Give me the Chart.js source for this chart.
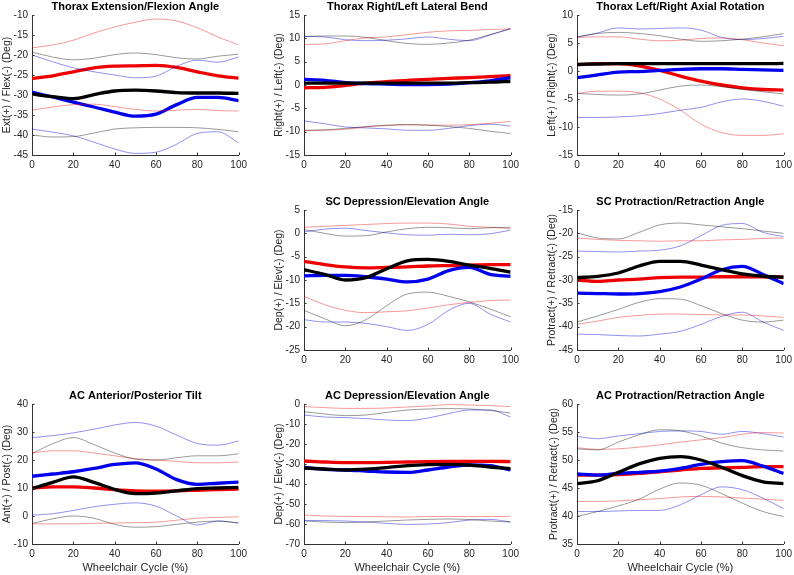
<!DOCTYPE html>
<html>
<head>
<meta charset="utf-8">
<script src="https://cdn.jsdelivr.net/npm/chart.js@4.4.1/dist/chart.umd.min.js"></script>
<style>
  html, body { margin: 0; padding: 0; background: #fff; }
  body { width: 794px; height: 575px; position: relative; overflow: hidden; }
  .panel { position: absolute; }
</style>
</head>
<body>
<script>
// x axis: percent of wheelchair cycle
const cyclePct = [0, 10, 20, 30, 40, 50, 60, 70, 80, 90, 100];

// Thorax extension / flexion
const tefBlack   = [-29.8, -30.4, -30.9, -29.9, -29.0, -28.8, -29.0, -29.4, -29.5, -29.5, -29.6];
const tefBlackHi = [-19.3, -20.5, -21.2, -20.8, -19.9, -19.5, -19.9, -20.7, -21.0, -20.3, -19.8];
const tefBlackLo = [-40.0, -40.5, -40.4, -39.5, -38.5, -38.2, -38.1, -38.1, -38.2, -38.6, -39.2];
const tefRed     = [-25.9, -25.2, -24.2, -23.2, -22.8, -22.7, -22.6, -23.1, -24.2, -25.2, -25.8];
const tefRedHi   = [-18.2, -17.5, -16.3, -14.5, -13.0, -11.8, -11.0, -11.5, -13.2, -15.5, -17.5];
const tefRedLo   = [-33.8, -33.0, -32.4, -32.3, -32.9, -33.6, -34.0, -33.8, -33.6, -33.9, -34.0];
const tefBlue    = [-29.3, -30.5, -31.8, -33.0, -34.3, -35.3, -34.8, -32.4, -30.6, -30.6, -31.4];
const tefBlueHi  = [-20.0, -21.7, -23.2, -24.2, -25.0, -25.7, -25.3, -22.8, -21.3, -21.8, -20.5];
const tefBlueLo  = [-38.5, -39.3, -40.2, -41.8, -43.5, -44.6, -44.3, -42.3, -39.6, -39.2, -42.0];

// Thorax right / left lateral bend
const tlbBlack   = [0.4, 0.4, 0.4, 0.4, 0.4, 0.4, 0.4, 0.4, 0.5, 0.6, 0.8];
const tlbBlackHi = [10.4, 10.5, 10.5, 10.2, 9.5, 8.9, 8.7, 9.0, 9.6, 10.8, 12.0];
const tlbBlackLo = [-9.7, -9.6, -9.3, -8.9, -8.6, -8.5, -8.6, -8.9, -9.3, -9.9, -10.4];
const tlbRed     = [-0.6, -0.5, -0.1, 0.4, 0.7, 1.0, 1.2, 1.4, 1.6, 1.8, 2.0];
const tlbRedHi   = [8.7, 8.8, 9.5, 10.1, 10.3, 10.8, 11.3, 11.6, 11.7, 11.9, 12.0];
const tlbRedLo   = [-9.8, -9.7, -9.5, -9.0, -8.7, -8.5, -8.6, -8.6, -8.5, -8.2, -7.8];
const tlbBlue    = [1.2, 1.0, 0.5, 0.3, 0.2, 0.1, 0.1, 0.2, 0.5, 0.9, 1.6];
const tlbBlueHi  = [10.4, 10.3, 9.7, 9.5, 9.6, 9.9, 10.3, 9.8, 9.5, 10.7, 12.2];
const tlbBlueLo  = [-7.7, -8.3, -9.0, -9.2, -9.4, -9.7, -9.7, -9.3, -8.7, -8.4, -8.8];

// Thorax left / right axial rotation
const tarBlack   = [1.2, 1.25, 1.3, 1.3, 1.3, 1.3, 1.3, 1.3, 1.3, 1.3, 1.35];
const tarBlackHi = [6.1, 6.7, 6.9, 6.7, 6.3, 5.7, 5.3, 5.4, 5.7, 6.1, 6.7];
const tarBlackLo = [-4.0, -4.2, -4.3, -4.1, -3.4, -2.7, -2.5, -2.8, -3.3, -3.7, -4.1];
const tarRed     = [1.1, 1.3, 1.3, 0.9, 0.1, -0.9, -1.8, -2.5, -3.0, -3.3, -3.4];
const tarRedHi   = [6.0, 6.1, 6.1, 5.7, 5.4, 5.5, 5.8, 5.9, 5.6, 5.0, 4.5];
const tarRedLo   = [-4.0, -3.6, -3.6, -3.9, -5.0, -7.0, -9.5, -11.0, -11.5, -11.5, -11.2];
const tarBlue    = [-1.2, -0.7, -0.2, -0.1, 0.1, 0.3, 0.4, 0.4, 0.3, 0.2, 0.1];
const tarBlueHi  = [6.0, 6.8, 7.7, 7.5, 7.6, 7.7, 7.3, 6.0, 5.6, 5.8, 6.2];
const tarBlueLo  = [-8.3, -8.3, -8.2, -8.0, -7.6, -7.0, -6.5, -5.5, -5.0, -5.4, -6.3];

// SC depression / elevation
const scdeBlack   = [-7.8, -8.8, -10.0, -9.5, -7.6, -5.9, -5.6, -6.0, -6.8, -7.5, -8.3];
const scdeBlackHi = [0.8, 0.0, -0.6, -0.5, 0.3, 1.0, 1.3, 1.2, 1.0, 1.2, 1.3];
const scdeBlackLo = [-16.5, -18.3, -19.8, -18.5, -15.5, -13.0, -12.6, -13.5, -14.7, -16.2, -17.9];
const scdeRed     = [-6.0, -6.7, -7.2, -7.4, -7.3, -7.2, -7.0, -6.9, -6.8, -6.7, -6.7];
const scdeRedHi   = [1.3, 1.5, 1.7, 1.9, 2.1, 2.2, 2.2, 2.0, 1.5, 1.3, 1.0];
const scdeRedLo   = [-13.5, -15.3, -16.5, -17.0, -16.8, -16.6, -16.0, -15.3, -14.8, -14.4, -14.3];
const scdeBlue    = [-9.1, -9.0, -9.0, -9.3, -9.8, -10.4, -9.8, -8.0, -7.3, -8.8, -9.2];
const scdeBlueHi  = [0.3, 0.9, 1.1, 0.6, 0.1, -0.3, -0.4, -0.2, -0.3, -0.1, 0.7];
const scdeBlueLo  = [-18.5, -19.0, -19.0, -19.3, -20.0, -20.8, -19.5, -16.5, -15.0, -17.3, -19.0];

// SC protraction / retraction
const scprBlack   = [-29.5, -29.2, -28.5, -27.0, -26.0, -26.0, -26.8, -27.8, -28.7, -29.2, -29.4];
const scprBlackHi = [-19.9, -21.0, -21.2, -19.8, -18.2, -17.8, -18.2, -18.6, -19.0, -19.5, -20.0];
const scprBlackLo = [-39.0, -37.7, -36.3, -34.8, -34.0, -34.1, -35.5, -37.2, -38.6, -39.0, -38.6];
const scprRed     = [-30.0, -30.3, -30.0, -29.8, -29.5, -29.4, -29.4, -29.3, -29.3, -29.3, -29.4];
const scprRedHi   = [-21.0, -21.3, -21.5, -21.6, -21.7, -21.6, -21.6, -21.4, -21.3, -21.1, -21.0];
const scprRedLo   = [-39.5, -38.8, -38.0, -37.6, -37.3, -37.3, -37.4, -37.5, -37.5, -37.7, -38.0];
const scprBlue    = [-32.8, -32.9, -33.0, -32.9, -32.5, -31.5, -29.8, -27.8, -27.1, -28.8, -30.8];
const scprBlueHi  = [-23.8, -23.9, -24.0, -23.8, -23.6, -22.7, -20.5, -18.3, -17.9, -19.8, -20.7];
const scprBlueLo  = [-41.6, -41.7, -41.9, -42.0, -41.6, -41.0, -39.5, -37.8, -36.9, -39.0, -40.8];

// AC anterior / posterior tilt
const actBlack   = [9.8, 12.0, 14.0, 12.0, 9.5, 8.0, 8.2, 9.0, 9.8, 10.0, 10.2];
const actBlackHi = [22.3, 25.8, 28.0, 25.5, 22.5, 20.3, 20.0, 20.8, 21.5, 21.5, 22.2];
const actBlackLo = [-2.7, -1.0, 0.0, -0.8, -3.0, -4.0, -3.8, -3.0, -2.2, -1.8, -2.5];
const actRed     = [10.0, 10.4, 10.4, 10.0, 9.4, 9.0, 8.9, 9.0, 9.2, 9.4, 9.6];
const actRedHi   = [22.5, 23.3, 23.3, 22.5, 21.5, 20.5, 20.0, 19.5, 19.0, 19.0, 19.3];
const actRedLo   = [-2.8, -2.8, -2.8, -2.6, -2.5, -2.4, -2.2, -1.5, -0.8, -0.5, -0.3];
const actBlue    = [14.2, 15.0, 15.8, 17.0, 18.4, 19.0, 16.8, 13.0, 11.3, 11.7, 12.1];
const actBlueHi  = [28.0, 28.7, 29.7, 31.0, 32.5, 33.4, 32.1, 28.9, 25.9, 25.3, 26.8];
const actBlueLo  = [0.3, 0.8, 2.0, 3.3, 4.2, 4.7, 3.5, 0.0, -3.2, -1.8, -2.5];

// AC depression / elevation
const acdeBlack   = [-32.0, -32.5, -33.0, -32.6, -31.8, -30.8, -30.3, -30.2, -30.5, -31.5, -32.3];
const acdeBlackHi = [-3.8, -5.0, -5.8, -5.5, -4.2, -3.0, -2.5, -2.3, -2.5, -3.2, -4.5];
const acdeBlackLo = [-58.5, -59.0, -59.3, -59.0, -58.5, -58.0, -57.7, -57.5, -57.8, -58.5, -59.0];
const acdeRed     = [-28.5, -29.0, -29.3, -29.3, -29.2, -29.0, -28.8, -28.7, -28.7, -28.7, -28.8];
const acdeRedHi   = [-1.3, -1.8, -2.2, -2.2, -2.0, -1.5, -1.0, -0.3, -0.5, -0.8, -1.3];
const acdeRedLo   = [-55.5, -56.0, -56.2, -56.3, -56.4, -56.5, -56.3, -56.2, -56.3, -56.3, -56.2];
const acdeBlue    = [-31.7, -32.7, -33.0, -33.5, -34.0, -34.2, -33.0, -31.5, -30.5, -30.8, -33.0];
const acdeBlueHi  = [-5.5, -6.5, -6.8, -7.3, -8.0, -8.3, -7.0, -4.8, -3.0, -3.0, -6.5];
const acdeBlueLo  = [-58.2, -58.3, -58.5, -59.0, -59.7, -60.2, -60.0, -59.3, -58.0, -57.7, -59.0];

// AC protraction / retraction
const acprBlack   = [45.8, 46.3, 47.8, 49.3, 50.3, 50.6, 50.0, 48.7, 47.2, 46.1, 45.8];
const acprBlackHi = [52.0, 51.8, 53.2, 54.5, 55.4, 55.2, 54.3, 53.0, 52.2, 51.8, 51.6];
const acprBlackLo = [39.9, 40.8, 41.8, 43.0, 44.8, 45.9, 45.5, 44.0, 42.3, 40.8, 39.9];
const acprRed     = [47.3, 47.3, 47.4, 47.6, 47.9, 48.2, 48.5, 48.6, 48.7, 48.8, 48.8];
const acprRedHi   = [52.2, 51.9, 52.0, 52.3, 52.7, 53.2, 53.6, 54.0, 54.6, 54.9, 54.8];
const acprRedLo   = [42.6, 42.6, 42.7, 42.9, 43.1, 43.4, 43.5, 43.4, 43.2, 43.0, 42.8];
const acprBlue    = [47.5, 47.3, 47.6, 47.8, 48.0, 48.5, 49.2, 49.7, 49.9, 48.9, 47.6];
const acprBlueHi  = [54.2, 53.8, 54.3, 54.7, 55.1, 55.2, 55.1, 54.6, 55.1, 54.7, 54.1];
const acprBlueLo  = [40.8, 40.8, 40.9, 41.0, 41.0, 42.0, 43.8, 45.2, 44.7, 43.2, 41.3];

const panels = [
  { col: 0, row: 0, title: 'Thorax Extension/Flexion Angle', ylabel: 'Ext(+) / Flex(-) (Deg)', min: -45, max: -10, step: 5,
    black: tefBlack, blackHi: tefBlackHi, blackLo: tefBlackLo, red: tefRed, redHi: tefRedHi, redLo: tefRedLo, blue: tefBlue, blueHi: tefBlueHi, blueLo: tefBlueLo },
  { col: 1, row: 0, title: 'Thorax Right/Left Lateral Bend', ylabel: 'Right(+) / Left(-) (Deg)', min: -15, max: 15, step: 5,
    black: tlbBlack, blackHi: tlbBlackHi, blackLo: tlbBlackLo, red: tlbRed, redHi: tlbRedHi, redLo: tlbRedLo, blue: tlbBlue, blueHi: tlbBlueHi, blueLo: tlbBlueLo },
  { col: 2, row: 0, title: 'Thorax Left/Right Axial Rotation', ylabel: 'Left(+) / Right(-) (Deg)', min: -15, max: 10, step: 5,
    black: tarBlack, blackHi: tarBlackHi, blackLo: tarBlackLo, red: tarRed, redHi: tarRedHi, redLo: tarRedLo, blue: tarBlue, blueHi: tarBlueHi, blueLo: tarBlueLo },
  { col: 1, row: 1, title: 'SC Depression/Elevation Angle', ylabel: 'Dep(+) / Elev(-) (Deg)', min: -25, max: 5, step: 5,
    black: scdeBlack, blackHi: scdeBlackHi, blackLo: scdeBlackLo, red: scdeRed, redHi: scdeRedHi, redLo: scdeRedLo, blue: scdeBlue, blueHi: scdeBlueHi, blueLo: scdeBlueLo },
  { col: 2, row: 1, title: 'SC Protraction/Retraction Angle', ylabel: 'Protract(+) / Retract(-) (Deg)', min: -45, max: -15, step: 5,
    black: scprBlack, blackHi: scprBlackHi, blackLo: scprBlackLo, red: scprRed, redHi: scprRedHi, redLo: scprRedLo, blue: scprBlue, blueHi: scprBlueHi, blueLo: scprBlueLo },
  { col: 0, row: 2, title: 'AC Anterior/Posterior Tilt', ylabel: 'Ant(+) / Post(-) (Deg)', min: -10, max: 40, step: 10,
    black: actBlack, blackHi: actBlackHi, blackLo: actBlackLo, red: actRed, redHi: actRedHi, redLo: actRedLo, blue: actBlue, blueHi: actBlueHi, blueLo: actBlueLo },
  { col: 1, row: 2, title: 'AC Depression/Elevation Angle', ylabel: 'Dep(+) / Elev(-) (Deg)', min: -70, max: 0, step: 10,
    black: acdeBlack, blackHi: acdeBlackHi, blackLo: acdeBlackLo, red: acdeRed, redHi: acdeRedHi, redLo: acdeRedLo, blue: acdeBlue, blueHi: acdeBlueHi, blueLo: acdeBlueLo },
  { col: 2, row: 2, title: 'AC Protraction/Retraction Angle', ylabel: 'Protract(+) / Retract(-) (Deg)', min: 35, max: 60, step: 5,
    black: acprBlack, blackHi: acprBlackHi, blackLo: acprBlackLo, red: acprRed, redHi: acprRedHi, redLo: acprRedLo, blue: acprBlue, blueHi: acprBlueHi, blueLo: acprBlueLo }
];

const FONT = "'Liberation Sans', Arial, Helvetica, sans-serif";
const colLeft = [32, 304, 577];
const rowTop = [15, 210, 404];
const PLOT_W = 207, PLOT_H = 140;
const AXIS_W = 32, PAD_TOP = 15, PAD_RIGHT = 12;

// title drawn above the plot area, MATLAB style
const panelTitle = {
  id: 'panelTitle',
  afterDraw(chart, args, opts) {
    const ctx = chart.ctx;
    const a = chart.chartArea;
    ctx.save();
    ctx.font = 'bold 11px ' + FONT;
    ctx.fillStyle = '#000';
    ctx.textAlign = 'center';
    ctx.textBaseline = 'middle';
    ctx.fillText(opts.text, (a.left + a.right) / 2, a.top - 8);
    ctx.restore();
  }
};

// small tick marks pointing into the plot
const inwardTicks = {
  id: 'inwardTicks',
  afterDraw(chart) {
    const ctx = chart.ctx;
    const a = chart.chartArea;
    const xs = chart.scales.x, ys = chart.scales.y;
    ctx.save();
    ctx.strokeStyle = '#333';
    ctx.lineWidth = 1;
    ctx.beginPath();
    xs.ticks.forEach(t => {
      const px = Math.round(xs.getPixelForValue(t.value)) + 0.5;
      ctx.moveTo(px, a.bottom);
      ctx.lineTo(px, a.bottom - 2.5);
    });
    ys.ticks.forEach(t => {
      const py = Math.round(ys.getPixelForValue(t.value)) + 0.5;
      ctx.moveTo(a.left, py);
      ctx.lineTo(a.left + 2.5, py);
    });
    ctx.stroke();
    ctx.restore();
  }
};

function series(vals) {
  return cyclePct.map((x, i) => ({ x: x, y: vals[i] }));
}

function thin(vals, color) {
  return { data: series(vals), borderColor: color, borderWidth: 0.8, pointRadius: 0, cubicInterpolationMode: 'monotone' };
}

function thick(vals, color) {
  return { data: series(vals), borderColor: color, borderWidth: 3.3, pointRadius: 0, cubicInterpolationMode: 'monotone' };
}

panels.forEach(p => {
  const bottomRow = p.row === 2;
  const xh = bottomRow ? 35 : 20;
  const w = AXIS_W + PLOT_W + PAD_RIGHT;
  const h = PAD_TOP + PLOT_H + xh;

  const div = document.createElement('div');
  div.className = 'panel';
  div.style.left = (colLeft[p.col] - AXIS_W) + 'px';
  div.style.top = (rowTop[p.row] - PAD_TOP) + 'px';
  div.style.width = w + 'px';
  div.style.height = h + 'px';
  const canvas = document.createElement('canvas');
  canvas.width = w;
  canvas.height = h;
  div.appendChild(canvas);
  document.body.appendChild(div);

  const shortTicks = String(p.min).length <= 2 && String(p.max).length <= 2;

  new Chart(canvas.getContext('2d'), {
    type: 'line',
    plugins: [panelTitle, inwardTicks],
    data: {
      datasets: [
        thin(p.blackHi, 'rgba(0,0,0,0.5)'),
        thin(p.blackLo, 'rgba(0,0,0,0.5)'),
        thin(p.redHi, 'rgba(230,0,0,0.5)'),
        thin(p.redLo, 'rgba(230,0,0,0.5)'),
        thin(p.blueHi, 'rgba(0,0,220,0.55)'),
        thin(p.blueLo, 'rgba(0,0,220,0.55)'),
        thick(p.black, '#000000'),
        thick(p.blue, '#0000ee'),
        thick(p.red, '#ee0000')
      ]
    },
    options: {
      responsive: false,
      animation: false,
      events: [],
      layout: { padding: { left: 0, top: PAD_TOP, right: PAD_RIGHT, bottom: 0 } },
      plugins: {
        legend: { display: false },
        tooltip: { enabled: false },
        panelTitle: { text: p.title }
      },
      scales: {
        x: {
          type: 'linear',
          min: 0,
          max: 100,
          afterFit: (s) => { s.height = xh; },
          grid: { display: false, drawTicks: false },
          border: { display: true, color: '#333', width: 1 },
          ticks: { stepSize: 20, padding: 4, color: '#262626', font: { family: FONT, size: 10 } },
          title: {
            display: bottomRow,
            text: 'Wheelchair Cycle (%)',
            color: '#262626',
            font: { family: FONT, size: 11 },
            padding: { top: 0, bottom: 4 }
          }
        },
        y: {
          min: p.min,
          max: p.max,
          afterFit: (s) => { s.width = AXIS_W; },
          grid: { display: false, drawTicks: false },
          border: { display: true, color: '#333', width: 1 },
          ticks: { stepSize: p.step, padding: 4, color: '#262626', font: { family: FONT, size: 10 } },
          title: {
            display: true,
            text: p.ylabel,
            color: '#262626',
            font: { family: FONT, size: 10.5 },
            padding: { top: shortTicks ? 3 : 0.5, bottom: 0 }
          }
        }
      }
    }
  });
});
</script>
</body>
</html>
